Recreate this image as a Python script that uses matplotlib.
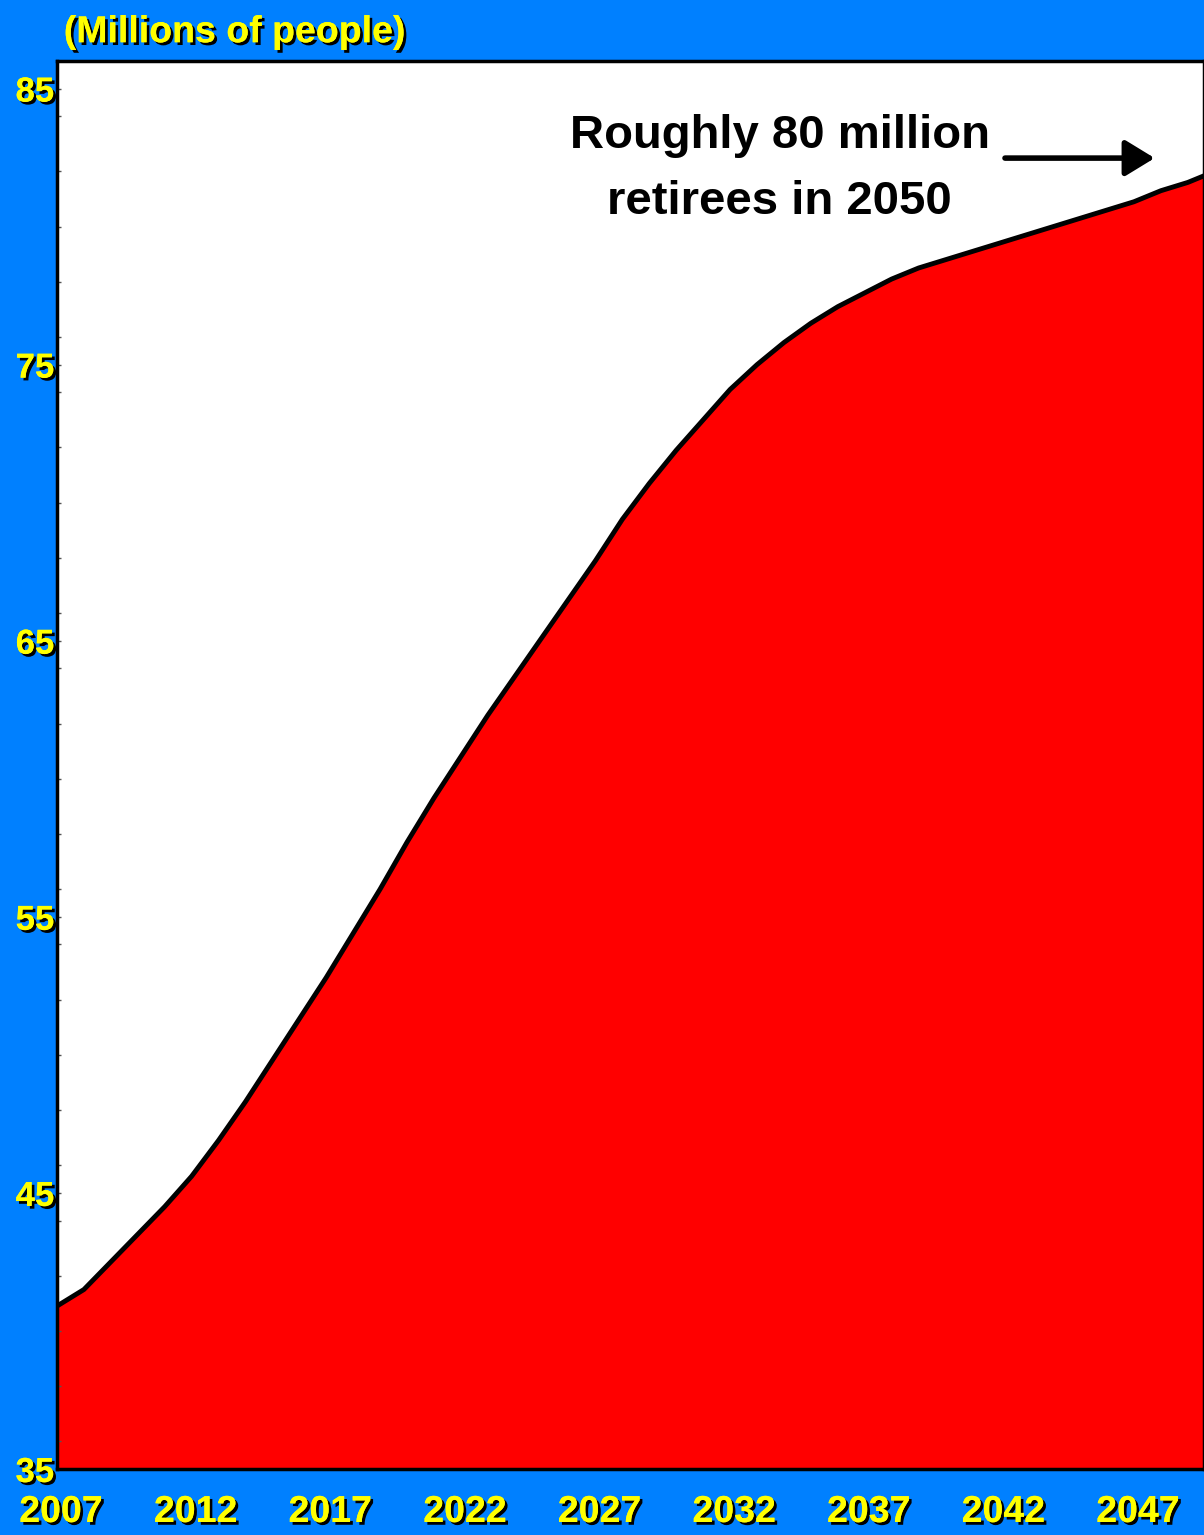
import matplotlib.pyplot as plt
import matplotlib.patheffects as pe
import matplotlib.transforms as mtransforms
from matplotlib.ticker import MultipleLocator

plt.rcParams['font.family'] = ['Liberation Sans', 'DejaVu Sans']
plt.rcParams['font.weight'] = 'bold'

YEARS = list(range(2007, 2051))
RETIREES = [
    40.9, 41.5, 42.5, 43.5, 44.5, 45.6, 46.9, 48.3, 49.8, 51.3,
    52.8, 54.4, 56.0, 57.7, 59.3, 60.8, 62.3, 63.7, 65.1, 66.5,
    67.9, 69.4, 70.7, 71.9, 73.0, 74.1, 75.0, 75.8, 76.5, 77.1,
    77.6, 78.1, 78.5, 78.8, 79.1, 79.4, 79.7, 80.0, 80.3, 80.6,
    80.9, 81.3, 81.6, 82.0,
]
X_TICKS = [2007, 2012, 2017, 2022, 2027, 2032, 2037, 2042, 2047]
Y_TICKS = [35, 45, 55, 65, 75, 85]

BLUE = '#0080FF'
YELLOW = '#FFFF00'
shadow = [pe.withSimplePatchShadow(offset=(2, -2), shadow_rgbFace='black', alpha=1.0), pe.Normal()]

fig = plt.figure(figsize=(12.04, 15.35), dpi=100, facecolor=BLUE)
ax = fig.add_axes([0.0473, 0.043, 0.9527, 0.9173])
ax.set_facecolor('white')

ax.fill_between(YEARS, 35, RETIREES, color='#FF0000', linewidth=0)
ax.plot(YEARS, RETIREES, color='black', linewidth=3.5, solid_joinstyle='round')

ax.set_xlim(2007, 2049.6)
ax.set_ylim(35, 86)

for s in ax.spines.values():
    s.set_linewidth(2.5)
    s.set_color('black')

ax.set_xticks(X_TICKS)
ax.set_yticks(Y_TICKS)
ax.yaxis.set_minor_locator(MultipleLocator(2))
ax.tick_params(axis='x', length=0, pad=18, labelsize=27, labelcolor=YELLOW)
ax.tick_params(axis='y', which='major', direction='in', length=3, width=1,
               color='#555555', pad=2, labelsize=25, labelcolor=YELLOW)
ax.tick_params(axis='y', which='minor', direction='in', length=3, width=1, color='#555555')

# year labels sit a few pixels right of their ticks in the original
nudge = mtransforms.ScaledTranslation(4 / 100, 0, fig.dpi_scale_trans)
for lbl in ax.get_xticklabels():
    lbl.set_transform(lbl.get_transform() + nudge)

for lbl in ax.get_xticklabels() + ax.get_yticklabels():
    lbl.set_fontweight('bold')
    lbl.set_path_effects(shadow)

fig.text(0.053, 0.979, '(Millions of people)', color=YELLOW, fontsize=27,
         fontweight='bold', ha='left', va='center', path_effects=shadow)

ax.text(0.630, 0.923, 'Roughly 80 million\nretirees in 2050', transform=ax.transAxes,
        ha='center', va='center', fontsize=34, fontweight='bold', color='black',
        linespacing=1.65)
ax.annotate('', xy=(0.957, 0.931), xytext=(0.8265, 0.931), xycoords='axes fraction',
            arrowprops=dict(arrowstyle='-|>,head_length=0.9,head_width=0.55',
                            mutation_scale=20, color='black', lw=4,
                            shrinkA=0, shrinkB=0, capstyle='round'))

fig.savefig('out.png', dpi=100, facecolor=BLUE)
